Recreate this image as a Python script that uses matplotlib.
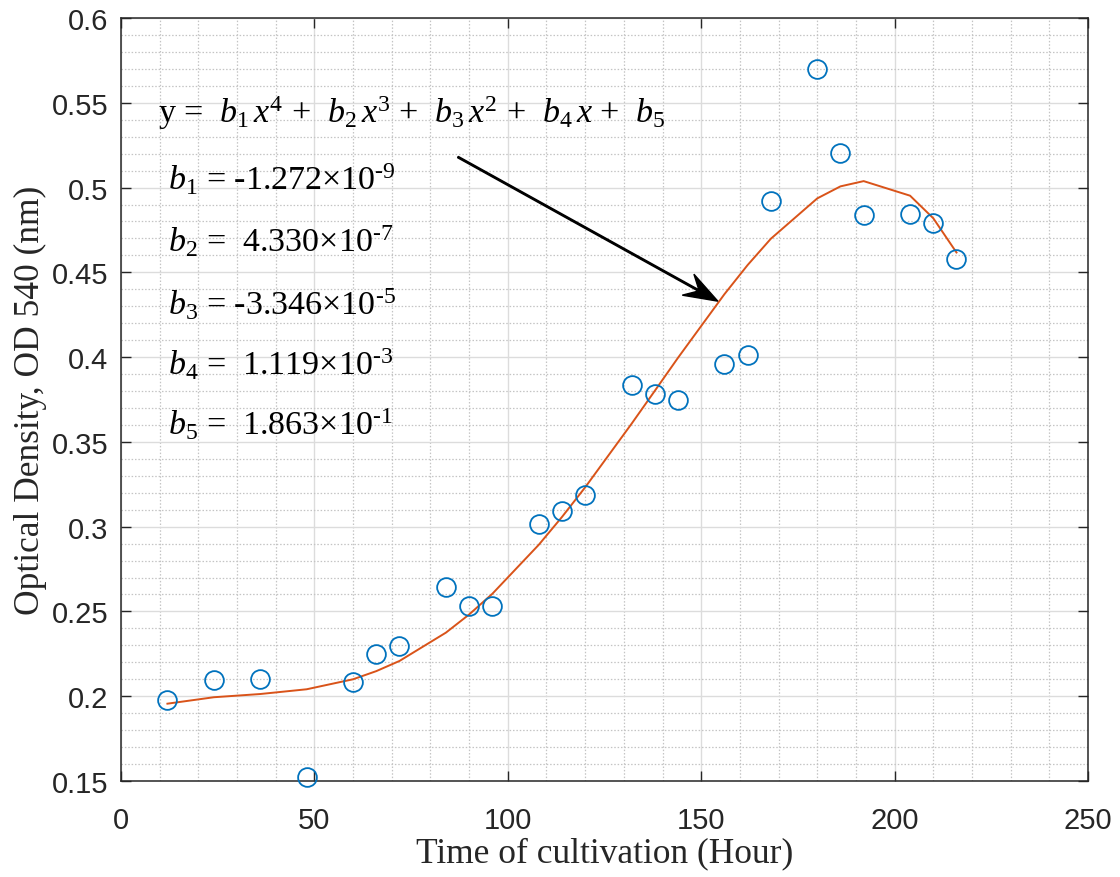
import matplotlib
matplotlib.use("Agg")
import matplotlib.pyplot as plt
from matplotlib.ticker import MultipleLocator
from matplotlib.patches import FancyArrow
from matplotlib.transforms import IdentityTransform

# ---- data ----
hours = [12, 24, 36, 48, 60, 66, 72, 84, 90, 96, 108, 114, 120, 132, 138, 144,
         156, 162, 168, 180, 186, 192, 204, 210, 216]
od_measured = [0.198, 0.2096, 0.2102, 0.1524, 0.2084, 0.2249, 0.2296, 0.2644,
               0.2532, 0.2532, 0.3016, 0.3092, 0.3187, 0.3836, 0.3783, 0.3747,
               0.3959, 0.4012, 0.4921, 0.5699, 0.5204, 0.4838, 0.4844, 0.4791,
               0.4579]
od_fitted = [0.1956, 0.1994, 0.2013, 0.2041, 0.2100, 0.2148, 0.2208, 0.2375,
             0.2482, 0.2604, 0.2893, 0.3057, 0.3232, 0.3607, 0.3801, 0.3996,
             0.4371, 0.4543, 0.4698, 0.4936, 0.5007, 0.5038, 0.4952, 0.4819,
             0.4617]

x_ticks = [0, 50, 100, 150, 200, 250]
y_ticks = [0.15, 0.2, 0.25, 0.3, 0.35, 0.4, 0.45, 0.5, 0.55, 0.6]
y_tick_labels = ['0.15', '0.2', '0.25', '0.3', '0.35', '0.4', '0.45', '0.5',
                 '0.55', '0.6']

x_label = "Time of cultivation (Hour)"
y_label = "Optical Density, OD 540 (nm)"
eq_line = r"y =  $b_1\,x^4$ +  $b_2\,x^3$ +  $b_3\,x^2$ +  $b_4\,x$ +  $b_5$"
coef_lines = [
    r"$b_1$ = -1.272$\times$10$^{\text{-}9}$",
    r"$b_2$ =  4.330$\times$10$^{\text{-}7}$",
    r"$b_3$ = -3.346$\times$10$^{\text{-}5}$",
    r"$b_4$ =  1.119$\times$10$^{\text{-}3}$",
    r"$b_5$ =  1.863$\times$10$^{\text{-}1}$",
]

plt.rcParams['mathtext.fontset'] = 'custom'
plt.rcParams['mathtext.rm'] = 'Liberation Serif'
plt.rcParams['mathtext.it'] = 'Liberation Serif:italic'
plt.rcParams['mathtext.bf'] = 'Liberation Serif:bold'

W, H = 1120, 878
fig = plt.figure(figsize=(W / 100, H / 100), dpi=100)
L, R, T, B = 121, 1088, 19, 782
ax = fig.add_axes([L / W, 1 - B / H, (R - L) / W, (B - T) / H])

ax.plot(hours, od_fitted, color='#D95319', lw=1.4, zorder=3)
ax.plot(hours, od_measured, 'o', mfc='none', mec='#0072BD', ms=13.5, mew=1.3,
        zorder=4, clip_on=False)

ax.set_xlim(0, 250)
ax.set_ylim(0.15, 0.6)
ax.set_xticks(x_ticks)
ax.set_yticks(y_ticks)
ax.set_yticklabels(y_tick_labels)
ax.xaxis.set_minor_locator(MultipleLocator(10))
ax.yaxis.set_minor_locator(MultipleLocator(0.01))

ax.grid(which='major', color='#DCDCDC', lw=1.0, ls='-', zorder=0)
ax.grid(which='minor', color='#C4C4C4', lw=0.9, ls=(0, (1.2, 1.5)), zorder=0)
ax.set_axisbelow(True)

ax.tick_params(which='major', direction='in', length=7, width=1.0,
               top=True, right=True, color='#262626',
               labelsize=21, labelcolor='#262626')
ax.tick_params(axis='x', which='major', pad=18)
ax.tick_params(axis='y', which='major', pad=9)
ax.tick_params(which='minor', length=0, top=True, right=True)
for lab in ax.get_xticklabels() + ax.get_yticklabels():
    lab.set_fontfamily('Liberation Sans')
for sp in ax.spines.values():
    sp.set_color('#262626')
    sp.set_linewidth(1.1)

ax.set_xlabel(x_label, fontfamily='Liberation Serif', fontsize=25.5,
              color='#262626')
ax.set_ylabel(y_label, fontfamily='Liberation Serif', fontsize=25.5,
              color='#262626')
ax.xaxis.set_label_coords(0.5, -(862 - B) / (B - T))
ax.xaxis.label.set_verticalalignment('baseline')
ax.yaxis.set_label_coords(-(L - 39) / (R - L), 0.5)
ax.yaxis.label.set_verticalalignment('baseline')

# equation text
eq_x, eq_y = 9.6, 0.5387
coef_x = 12.2
coef_y = [0.4992, 0.4626, 0.4254, 0.3900, 0.3547]
ax.text(eq_x, eq_y, eq_line, fontfamily='Liberation Serif', fontsize=24.5,
        va='baseline', ha='left', color='black', zorder=5)
for yy, t in zip(coef_y, coef_lines):
    ax.text(coef_x, yy, t, fontfamily='Liberation Serif', fontsize=24.5,
            va='baseline', ha='left', color='black', zorder=5)

# arrow (drawn in pixel space so the head keeps its shape)
arrow_start = (87.1, 0.518)
arrow_end = (154.3, 0.433)
fig.canvas.draw()
p0 = ax.transData.transform(arrow_start)
p1 = ax.transData.transform(arrow_end)
arr = FancyArrow(p0[0], p0[1], p1[0] - p0[0], p1[1] - p0[1], width=1.5,
                 head_width=24, head_length=34, overhang=0.35,
                 length_includes_head=True, transform=IdentityTransform(),
                 color='black', zorder=6)
fig.patches.append(arr)

fig.savefig('out.png', dpi=100)
